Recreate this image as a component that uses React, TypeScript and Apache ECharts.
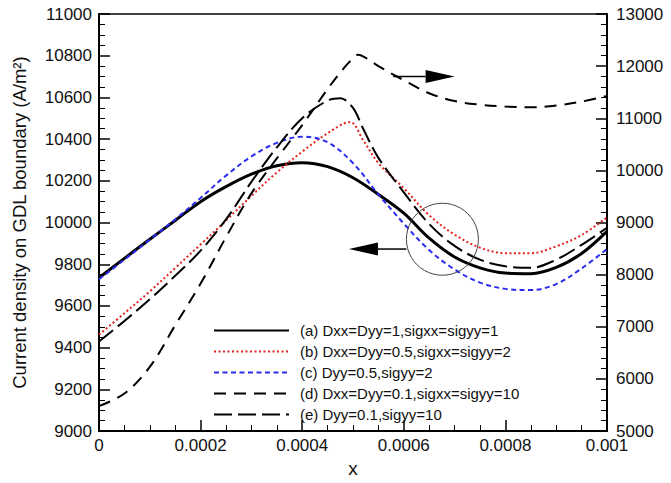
import React, { useEffect, useRef } from "react";
import * as echarts from "echarts";

// ---- data ----
const X_GRID = [0, 0.00005, 0.0001, 0.00015, 0.0002, 0.00025, 0.0003, 0.00035, 0.0004, 0.00045, 0.0005, 0.00055, 0.0006, 0.00065, 0.0007, 0.00075, 0.0008, 0.00085, 0.0009, 0.00095, 0.001];

const A_X = X_GRID;
const A_Y = [9735, 9828, 9920, 10010, 10100, 10172, 10232, 10272, 10287, 10268, 10215, 10135, 10045, 9925, 9835, 9783, 9758, 9755, 9785, 9852, 9958];

const B_X = [0, 0.00005, 0.0001, 0.00015, 0.0002, 0.00025, 0.0003, 0.00035, 0.0004, 0.00045, 0.000494, 0.00052, 0.00055, 0.0006, 0.00065, 0.0007, 0.00075, 0.0008, 0.00085, 0.0009, 0.00095, 0.001];
const B_Y = [9462, 9565, 9670, 9782, 9895, 10010, 10128, 10240, 10340, 10428, 10482, 10395, 10285, 10165, 10035, 9942, 9880, 9853, 9853, 9886, 9940, 10025];

const C_X = X_GRID;
const C_Y = [9728, 9822, 9918, 10015, 10118, 10225, 10317, 10382, 10412, 10385, 10285, 10135, 9995, 9868, 9775, 9712, 9682, 9676, 9705, 9780, 9873];

const D_X = [0, 0.00005, 0.0001, 0.00015, 0.0002, 0.00025, 0.0003, 0.00035, 0.0004, 0.00045, 0.00048, 0.0005, 0.00051, 0.00053, 0.00055, 0.0006, 0.00065, 0.0007, 0.00075, 0.0008, 0.00085, 0.0009, 0.00095, 0.001];
const D_Y = [5480, 5720, 6230, 7030, 7830, 8720, 9560, 10230, 10870, 11560, 11940, 12150, 12220, 12130, 12000, 11730, 11480, 11330, 11260, 11225, 11210, 11245, 11320, 11430];

const E_X = [0, 0.00005, 0.0001, 0.00015, 0.0002, 0.00025, 0.0003, 0.00035, 0.0004, 0.00045, 0.000475, 0.0005, 0.00052, 0.00055, 0.0006, 0.00065, 0.0007, 0.00075, 0.0008, 0.00085, 0.0009, 0.00095, 0.001];
const E_Y = [9430, 9528, 9632, 9745, 9865, 10015, 10195, 10360, 10500, 10585, 10596, 10550, 10450, 10310, 10145, 9993, 9888, 9822, 9790, 9783, 9822, 9893, 9975];

const SERIES_NAMES = [
  "(a) Dxx=Dyy=1,sigxx=sigyy=1",
  "(b) Dxx=Dyy=0.5,sigxx=sigyy=2",
  "(c) Dyy=0.5,sigyy=2",
  "(d) Dxx=Dyy=0.1,sigxx=sigyy=10",
  "(e) Dyy=0.1,sigyy=10",
];

const Y_LEFT_NAME = "Current density on GDL boundary (A/m²)";
const X_NAME = "x";

// annotation anchors, in data space
const CIRCLE_CENTER = [0.000676, 9920];
const LEFT_ARROW_FROM = [0.000605, 9873];
const LEFT_ARROW_TO = [0.000492, 9873];
const RIGHT_ARROW_FROM = [0.000579, 11800]; // right axis
const RIGHT_ARROW_TO = [0.0007, 11800];

const FONT = "'Liberation Sans', Arial, Helvetica, sans-serif";

const pairs = (xs: number[], ys: number[]) => xs.map((x, i) => [x, ys[i]]);

export default function App() {
  const ref = useRef<HTMLDivElement>(null);
  useEffect(() => {
    const chart = echarts.init(ref.current!, null, { renderer: "svg" });
    const axisCommon = {
      axisLine: { show: true, lineStyle: { color: "#000", width: 2 } },
      axisTick: { show: true, inside: true, length: 11, lineStyle: { color: "#000", width: 1.5 } },
      minorTick: { show: true, length: 6, lineStyle: { color: "#000", width: 1 } },
      splitLine: { show: false },
    };
    const mk = (name: string, xs: number[], ys: number[], color: string, width: number, type: any, yAxisIndex: number) => ({
      name,
      type: "line",
      yAxisIndex,
      data: pairs(xs, ys),
      symbol: "none",
      smooth: 0.35,
      lineStyle: { color, width, type },
      itemStyle: { color },
    });
    const option: any = {
      animation: false,
      textStyle: { fontFamily: FONT },
      grid: { left: 99, right: 64, top: 14, bottom: 45, show: true, borderColor: "#000", borderWidth: 1.5, containLabel: false },
      legend: {
        orient: "vertical",
        left: 208,
        top: 318,
        itemWidth: 75,
        itemHeight: 12,
        itemGap: 6,
        itemStyle: { opacity: 0 },
        textStyle: { fontSize: 15, color: "#111", fontFamily: FONT, padding: [0, 0, 0, 6] },
        data: SERIES_NAMES,
      },
      xAxis: {
        type: "value",
        min: 0,
        max: 0.001,
        interval: 0.0002,
        ...axisCommon,
        minorTick: { ...axisCommon.minorTick, splitNumber: 4 },
        axisLabel: {
          fontSize: 17,
          color: "#111",
          margin: 6,
          fontFamily: FONT,
          formatter: (v: number) => String(+v.toFixed(4)),
        },
        name: X_NAME,
        nameLocation: "middle",
        nameGap: 24,
        nameTextStyle: { fontSize: 19, color: "#111", fontFamily: FONT },
      },
      yAxis: [
        {
          type: "value",
          position: "left",
          min: 9000,
          max: 11000,
          interval: 200,
          ...axisCommon,
          minorTick: { ...axisCommon.minorTick, splitNumber: 4 },
          axisLabel: { fontSize: 17, color: "#111", margin: 7, fontFamily: FONT, formatter: (v: number) => String(v) },
          name: Y_LEFT_NAME,
          nameLocation: "middle",
          nameGap: 70,
          nameTextStyle: { fontSize: 18.5, color: "#111", fontFamily: FONT },
        },
        {
          type: "value",
          position: "right",
          min: 5000,
          max: 13000,
          interval: 1000,
          alignTicks: false,
          ...axisCommon,
          minorTick: { ...axisCommon.minorTick, splitNumber: 5 },
          axisLabel: { fontSize: 17, color: "#111", margin: 9, fontFamily: FONT, formatter: (v: number) => String(v) },
        },
      ],
      series: [
        mk(SERIES_NAMES[0], A_X, A_Y, "#000", 3, "solid", 0),
        mk(SERIES_NAMES[1], B_X, B_Y, "#e2231f", 2, [2, 2.5], 0),
        mk(SERIES_NAMES[2], C_X, C_Y, "#2b2bf0", 2, [5, 3.5], 0),
        mk(SERIES_NAMES[3], D_X, D_Y, "#000", 2, [12, 8], 1),
        mk(SERIES_NAMES[4], E_X, E_Y, "#000", 2, [18, 6], 0),
      ],
    };
    chart.setOption(option);

    const px = (pt: number[], yi: number) => chart.convertToPixel({ xAxisIndex: 0, yAxisIndex: yi }, pt) as number[];
    const c = px(CIRCLE_CENTER, 0);
    const la = px(LEFT_ARROW_FROM, 0);
    const lt = px(LEFT_ARROW_TO, 0);
    const ra = px(RIGHT_ARROW_FROM, 1);
    const rt = px(RIGHT_ARROW_TO, 1);
    const head = 29;
    const hw = 6.5;
    chart.setOption({
      graphic: [
        { type: "circle", shape: { cx: c[0], cy: c[1], r: 36 }, style: { fill: "none", stroke: "#444", lineWidth: 1 }, z: 100 },
        { type: "line", shape: { x1: la[0], y1: la[1], x2: lt[0] + head, y2: lt[1] }, style: { stroke: "#000", lineWidth: 1.5 }, z: 100 },
        { type: "polygon", shape: { points: [[lt[0], lt[1]], [lt[0] + head, lt[1] - hw], [lt[0] + head, lt[1] + hw]] }, style: { fill: "#000" }, z: 100 },
        { type: "line", shape: { x1: ra[0], y1: ra[1], x2: rt[0] - head, y2: rt[1] }, style: { stroke: "#000", lineWidth: 1.5 }, z: 100 },
        { type: "polygon", shape: { points: [[rt[0], rt[1]], [rt[0] - head, rt[1] - hw], [rt[0] - head, rt[1] + hw]] }, style: { fill: "#000" }, z: 100 },
      ],
    });
    return () => chart.dispose();
  }, []);
  return <div ref={ref} style={{ position: "absolute", left: 0, top: 0, width: 671, height: 483 }} />;
}
